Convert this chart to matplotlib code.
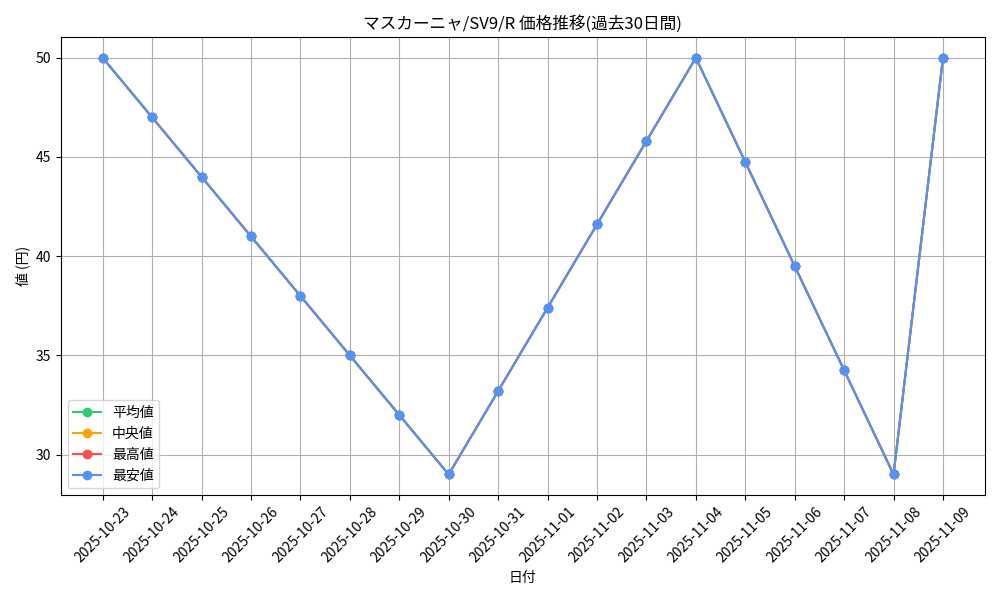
import matplotlib
matplotlib.use("Agg")
import matplotlib.pyplot as plt

plt.rcParams['font.family'] = ['Noto Sans CJK JP', 'DejaVu Sans']

dates = ["2025-10-23", "2025-10-24", "2025-10-25", "2025-10-26", "2025-10-27",
         "2025-10-28", "2025-10-29", "2025-10-30", "2025-10-31", "2025-11-01",
         "2025-11-02", "2025-11-03", "2025-11-04", "2025-11-05", "2025-11-06",
         "2025-11-07", "2025-11-08", "2025-11-09"]
avg_price = [50, 47, 44, 41, 38, 35, 32, 29, 33.2, 37.4, 41.6, 45.8, 50,
             44.75, 39.5, 34.25, 29, 50]
median_price = [50, 47, 44, 41, 38, 35, 32, 29, 33.2, 37.4, 41.6, 45.8, 50,
                44.75, 39.5, 34.25, 29, 50]
max_price = [50, 47, 44, 41, 38, 35, 32, 29, 33.2, 37.4, 41.6, 45.8, 50,
             44.75, 39.5, 34.25, 29, 50]
min_price = [50, 47, 44, 41, 38, 35, 32, 29, 33.2, 37.4, 41.6, 45.8, 50,
             44.75, 39.5, 34.25, 29, 50]

plt.figure(figsize=(10, 6), dpi=100)
plt.plot(dates, avg_price, marker='o', color='#2ecc71', label='平均値')
plt.plot(dates, median_price, marker='o', color='#ffa500', label='中央値')
plt.plot(dates, max_price, marker='o', color='#ff4d4d', label='最高値')
plt.plot(dates, min_price, marker='o', color='#4d94ff', label='最安値')

plt.title('マスカーニャ/SV9/R 価格推移(過去30日間)')
plt.xlabel('日付')
plt.ylabel('値 (円)')
plt.xticks(rotation=45)
plt.grid(True)
plt.legend(loc='lower left')

plt.tight_layout()
plt.savefig('out.png')
